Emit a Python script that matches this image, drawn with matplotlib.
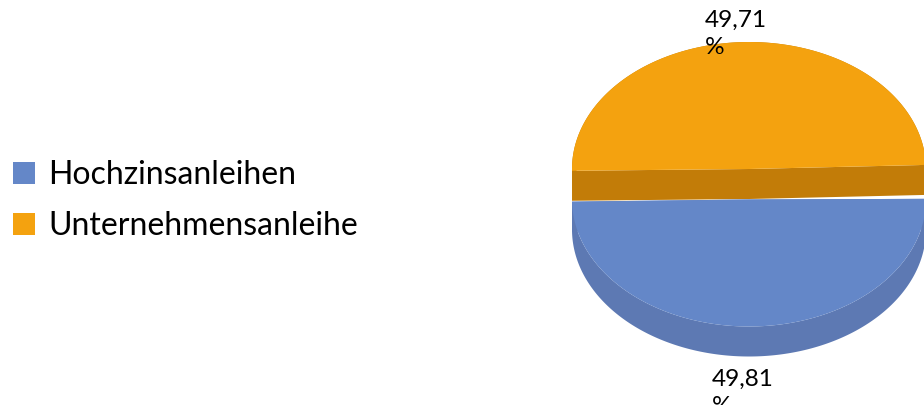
import numpy as np
import matplotlib
matplotlib.use("Agg")
import matplotlib.pyplot as plt
from matplotlib.patches import Polygon, Patch

categories = ["Hochzinsanleihen", "Unternehmensanleihe"]
values = [49.81, 49.71]
labels = ["49,81\n%", "49,71\n%"]
top_colors = ["#6487C8", "#F4A20F"]
side_colors = ["#5D79B3", "#C27C08"]

# pie geometry in pixels
CX, RX, RY, DEPTH = 749, 177, 127, 30
CY = [199.5, 169.0]
START = [-0.3, 179.2]

fig = plt.figure(figsize=(9.24, 4.05), dpi=100)
ax = fig.add_axes([0, 0, 1, 1])
ax.set_xlim(0, 924)
ax.set_ylim(405, 0)
ax.axis("off")


def arc(start, sweep, cy):
    t = np.radians(np.linspace(start, start + sweep, 300))
    return np.column_stack([CX + RX * np.cos(t), cy + RY * np.sin(t)])


for i in (1, 0):
    sweep = values[i] * 3.6
    rim = arc(START[i], sweep, CY[i])
    centre = np.array([[CX, CY[i]]])
    down = np.array([0, DEPTH])
    # cut face + outer wall, extruded downward
    cut = np.vstack([rim[-1:], centre, rim[:1]])
    ax.add_patch(Polygon(np.vstack([cut, cut[::-1] + down]), closed=True,
                         fc=side_colors[i], ec="none"))
    ax.add_patch(Polygon(np.vstack([rim, rim[::-1] + down]), closed=True,
                         fc=side_colors[i], ec="none"))
    ax.add_patch(Polygon(np.vstack([centre, rim]), closed=True,
                         fc=top_colors[i], ec="none"))

ax.text(712, 368.5, labels[0], family="Lato", fontsize=17.6, color="black",
        va="top", ha="left", linespacing=1.4, clip_on=False)
ax.text(705, 9.5, labels[1], family="Lato", fontsize=17.6, color="black",
        va="top", ha="left", linespacing=1.4)

handles = [Patch(fc=c, ec="none") for c in top_colors]
ax.legend(handles, categories, loc="center left", bbox_to_anchor=(13, 200.5),
          bbox_transform=ax.transData, frameon=False,
          prop={"family": "Lato", "size": 23.0}, labelcolor="black",
          handlelength=0.69, handleheight=0.69, handletextpad=0.42,
          labelspacing=0.66, borderpad=0, borderaxespad=0)

fig.savefig("out.png", dpi=100)
